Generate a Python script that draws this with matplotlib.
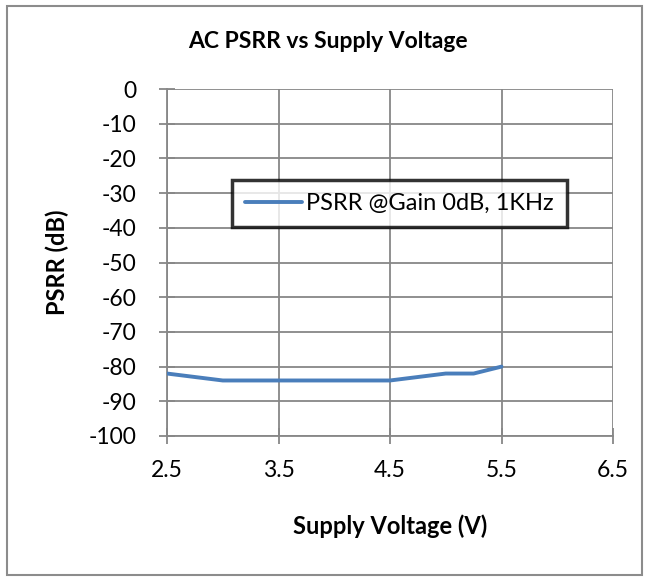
import matplotlib.pyplot as plt
from matplotlib.patches import Rectangle

# supply voltage (V) and PSRR (dB)
voltage = [2.5, 3.0, 3.5, 4.0, 4.5, 5.0, 5.25, 5.5]
psrr = [-82, -84, -84, -84, -84, -82, -82, -80]
x_ticks = [2.5, 3.5, 4.5, 5.5, 6.5]
y_ticks = list(range(-100, 1, 10))

plt.rcParams['font.family'] = ['Lato', 'DejaVu Sans']
plt.rcParams['axes.unicode_minus'] = False
grid_grey = '#878787'

fig = plt.figure(figsize=(6.5, 5.81), dpi=100)
ax = fig.add_axes([167 / 650, 1 - 436 / 581, (613 - 167) / 650, (436 - 89) / 581])

ax.plot(voltage, psrr, color='#4a7ebb', linewidth=2.8, solid_capstyle='round',
        label='PSRR @Gain 0dB, 1KHz', zorder=3)

ax.set_xlim(2.5, 6.5)
ax.set_ylim(-100, 0)
ax.set_xticks(x_ticks)
ax.set_yticks(y_ticks)
ax.set_xticklabels([f'{v:.1f}' for v in x_ticks])
ax.grid(True, color=grid_grey, linewidth=1.3)
for side in ['left', 'bottom', 'top', 'right']:
    ax.spines[side].set_color(grid_grey)
    ax.spines[side].set_linewidth(1.3)
ax.spines['top'].set_visible(False)
ax.spines['right'].set_visible(False)
ax.tick_params(axis='both', direction='inout', length=12, width=1.3, color=grid_grey,
               labelsize=16.5)
ax.tick_params(axis='y', pad=16)
ax.tick_params(axis='x', pad=11)

ax.set_xlabel('Supply Voltage (V)', fontsize=17, fontweight='bold', labelpad=24)
ax.set_ylabel('PSRR (dB)', fontsize=17, fontweight='bold', labelpad=14)
fig.text(328 / 650, 1 - 42 / 581, 'AC PSRR vs Supply Voltage', fontsize=16.5,
         fontweight='bold', ha='center', va='center')

leg = ax.legend(loc='upper left', bbox_to_anchor=((232 - 167) / 446, (436 - 180) / 347),
                fontsize=17, frameon=True, fancybox=False, handlelength=2.4,
                borderpad=0.55, handletextpad=0.2, borderaxespad=0)
leg.get_frame().set_edgecolor('black')
leg.get_frame().set_linewidth(2.5)

# outer chart border
fig.patches.append(Rectangle((7 / 650, 6 / 581), 635 / 650, 569 / 581, transform=fig.transFigure,
                             fill=False, edgecolor='#8c8c8c', linewidth=1.5))

fig.savefig('out.png', dpi=100)
